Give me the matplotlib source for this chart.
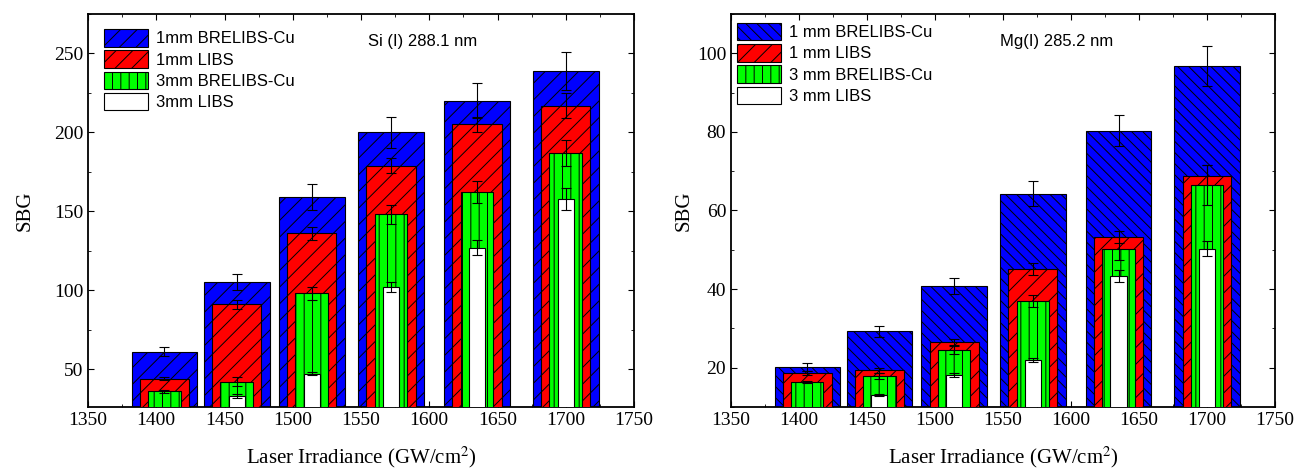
import numpy as np
import matplotlib
matplotlib.use("Agg")
import matplotlib.pyplot as plt
from matplotlib.ticker import MultipleLocator

plt.rcParams['font.family'] = ['Liberation Serif', 'DejaVu Serif']
plt.rcParams['hatch.linewidth'] = 0.7
plt.rcParams['mathtext.fontset'] = 'stix'

# laser irradiance of each group (GW/cm2)
irr = [1406, 1459, 1514, 1572, 1635, 1700]

# Si (I) 288.1 nm
si_br1 = [61, 105, 159, 200, 220, 239]
si_br1_err = [3, 5, 8, 10, 11, 12]
si_libs1 = [44, 91, 136, 179, 205, 217]
si_libs1_err = [1, 3, 4, 5, 5, 8]
si_br3 = [36, 42, 98, 148, 162, 187]
si_br3_err = [1, 3, 4, 6, 7, 8]
si_libs3 = [25, 33, 47, 102, 127, 158]
si_libs3_err = [0, 1, 1, 3, 5, 7]

# Mg (I) 285.2 nm
mg_br1 = [20.2, 29.3, 40.7, 64.3, 80.3, 96.8]
mg_br1_err = [1.0, 1.4, 2.0, 3.2, 4.0, 5.0]
mg_libs1 = [18.7, 19.3, 26.5, 45.2, 53.2, 68.8]
mg_libs1_err = [0.5, 0.6, 0.8, 1.5, 1.5, 2.7]
mg_br3 = [16.3, 17.8, 24.6, 37.0, 50.3, 66.5]
mg_br3_err = [0.3, 0.8, 1.0, 1.5, 3.0, 5.0]
mg_libs3 = [9, 13.1, 18.2, 22.0, 43.3, 50.3]
mg_libs3_err = [0, 0.3, 0.5, 0.5, 1.5, 2.0]

widths = [48, 36, 24, 12]
colors = ['#0000ff', '#ff0000', '#00ff00', 'white']


def draw_panel(ax, series, errs, labels, hatches, ylim, yticks, yminor, title, legpos, ylpad):
    for i in range(4):
        ax.bar(irr, series[i], width=widths[i], color=colors[i], edgecolor='black',
               linewidth=0.8, hatch=hatches[i], label=labels[i], zorder=2 + 2 * i)
        ax.errorbar(irr, series[i], yerr=errs[i], fmt='none', ecolor='black',
                    elinewidth=0.8, capsize=3.5, capthick=0.8, zorder=3 + 2 * i)
    ax.set_xlim(1350, 1750)
    ax.set_ylim(*ylim)
    ax.xaxis.set_major_locator(MultipleLocator(50))
    ax.xaxis.set_minor_locator(MultipleLocator(25))
    ax.yaxis.set_major_locator(MultipleLocator(yticks))
    ax.yaxis.set_minor_locator(MultipleLocator(yminor))
    ax.tick_params(which='both', direction='in', top=True, right=True, labelsize=14)
    ax.tick_params(which='major', length=4)
    ax.tick_params(which='minor', length=2)
    for s in ax.spines.values():
        s.set_linewidth(1.3)
    ax.set_xlabel('Laser Irradiance (GW/cm$^2$)', fontsize=15, labelpad=11)
    ax.set_ylabel('SBG', fontsize=15, labelpad=ylpad)
    ax.text(title[1], title[2], title[0], transform=ax.transAxes, fontsize=12,
            family='Liberation Sans', va='center')
    ax.legend(loc='upper left', bbox_to_anchor=legpos, frameon=False,
              prop={'family': 'Liberation Sans', 'size': 12},
              handlelength=2.65, handleheight=1.25, labelspacing=0.22,
              handletextpad=0.45, borderpad=0, borderaxespad=0)


fig = plt.figure(figsize=(12.96, 4.73), dpi=100)
ax1 = fig.add_axes([88 / 1296, 1 - 407 / 473, 546 / 1296, 393 / 473])
ax2 = fig.add_axes([731 / 1296, 1 - 407 / 473, 544 / 1296, 393 / 473])

draw_panel(ax1, [si_br1, si_libs1, si_br3, si_libs3],
           [si_br1_err, si_libs1_err, si_br3_err, si_libs3_err],
           ['1mm BRELIBS-Cu', '1mm LIBS', '3mm BRELIBS-Cu', '3mm LIBS'],
           ['//', '//', '||', None], (26, 275), 50, 25, ('Si (I) 288.1 nm', 0.513, 0.931),
           (0.029, 0.962), 14)
draw_panel(ax2, [mg_br1, mg_libs1, mg_br3, mg_libs3],
           [mg_br1_err, mg_libs1_err, mg_br3_err, mg_libs3_err],
           ['1 mm BRELIBS-Cu', '1 mm LIBS', '3 mm BRELIBS-Cu', '3 mm LIBS'],
           ['\\\\\\', '//', '||', None], (10, 110), 20, 10, ('Mg(I) 285.2 nm', 0.494, 0.93),
           (0.011, 0.978), 2)

fig.savefig('out.png', dpi=100)
